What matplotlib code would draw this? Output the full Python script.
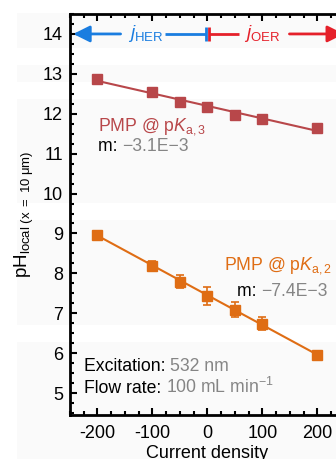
import numpy as np
import matplotlib
matplotlib.use("Agg")
import matplotlib.pyplot as plt
from matplotlib.patches import Rectangle
from matplotlib.ticker import MultipleLocator

plt.rcParams['font.family'] = ['Liberation Sans', 'DejaVu Sans']
plt.rcParams['mathtext.fontset'] = 'custom'
plt.rcParams['mathtext.rm'] = 'Liberation Sans'
plt.rcParams['mathtext.it'] = 'Liberation Sans:italic'
plt.rcParams['mathtext.bf'] = 'Liberation Sans:bold'
plt.rcParams['axes.unicode_minus'] = False

# ---- data ----
current = [-200, -100, -50, 0, 50, 100, 200]
ph_pka3 = [12.87, 12.55, 12.29, 12.17, 11.98, 11.87, 11.64]
err_pka3 = [0.03, 0.03, 0.03, 0.03, 0.03, 0.03, 0.03]
ph_pka2 = [8.97, 8.19, 7.79, 7.43, 7.09, 6.74, 5.95]
err_pka2 = [0.10, 0.12, 0.16, 0.22, 0.19, 0.17, 0.11]
xticks = [-200, -100, 0, 100, 200]
yticks = [5, 6, 7, 8, 9, 10, 11, 12, 13, 14]

RED = '#b8474a'
ORANGE = '#df6d14'
BLUE = '#1a7de0'
OER = '#e5202a'
GRAY = '#858585'
FS = 12.7

W, H = 336, 459
fig = plt.figure(figsize=(W / 100, H / 100), dpi=100, facecolor='white')

# light background bands (pixel rows)
bands = [(13, 48), (65, 82), (99, 203), (220, 325), (342, 459)]
for y0, y1 in bands:
    fig.add_artist(Rectangle((17 / W, 1 - y1 / H), 1 - 17 / W, (y1 - y0) / H,
                             transform=fig.transFigure, facecolor='#fafafa',
                             edgecolor='none', zorder=-10))

ax = fig.add_axes([70 / W, 1 - 415 / H, 275 / W, 401 / H])
ax.set_facecolor('none')
ax.set_xlim(-250, 250)
ax.set_ylim(4.45, 14.5)

x = np.array(current, dtype=float)
for ys, es, col in [(ph_pka3, err_pka3, RED), (ph_pka2, err_pka2, ORANGE)]:
    p = np.polyfit(x, ys, 1)
    ax.plot([x.min(), x.max()], np.polyval(p, [x.min(), x.max()]), color=col, lw=1.5, zorder=2)
    ax.errorbar(x, ys, yerr=es, fmt='s', color=col, ms=7, capsize=3, elinewidth=1.2,
                capthick=1.2, zorder=3)

# j arrows
ya = 14
ax.plot([-2, -2], [ya - 0.17, ya + 0.17], color=BLUE, lw=2, solid_capstyle='butt')
ax.plot([2, 2], [ya - 0.17, ya + 0.17], color=OER, lw=2, solid_capstyle='butt')
ax.plot([-2, -78], [ya, ya], color=BLUE, lw=2, solid_capstyle='butt')
ax.annotate('', xy=(-244, ya), xytext=(-158, ya),
            arrowprops=dict(arrowstyle='-|>,head_length=1.0,head_width=0.5', lw=2,
                            color=BLUE, shrinkA=0, shrinkB=0))
ax.text(-112, ya, r'$\mathit{j}_{\mathregular{HER}}$', color=BLUE, fontsize=13.5,
        ha='center', va='center')
ax.plot([2, 58], [ya, ya], color=OER, lw=2, solid_capstyle='butt')
ax.annotate('', xy=(248, ya), xytext=(149, ya), annotation_clip=False,
            arrowprops=dict(arrowstyle='-|>,head_length=1.0,head_width=0.5', lw=2,
                            color=OER, shrinkA=0, shrinkB=0))
ax.text(99, ya, r'$\mathit{j}_{\mathregular{OER}}$', color=OER, fontsize=13.5,
        ha='center', va='center')

# annotations
ax.text(-199, 11.68, r'PMP @ p$\mathit{K}_{\mathregular{a,3}}$', color=RED, fontsize=FS,
        ha='left', va='center')
t = ax.text(-199, 11.18, 'm: ', color='black', fontsize=FS, ha='left', va='center')
ax.annotate('\u22123.1E\u22123', xycoords=t, xy=(1, 0), va='bottom', ha='left',
            color=GRAY, fontsize=FS)

ax.text(227, 8.2, r'PMP @ p$\mathit{K}_{\mathregular{a,2}}$', color=ORANGE, fontsize=FS,
        ha='right', va='center')
t2 = ax.text(218, 7.55, '\u22127.4E\u22123', color=GRAY, fontsize=FS, ha='right', va='center')
ax.annotate('m: ', xycoords=t2, xy=(0, 0), va='bottom', ha='right', color='black',
            fontsize=FS)

t3 = ax.text(-225, 5.66, 'Excitation: ', color='black', fontsize=FS, ha='left', va='center')
ax.annotate('532 nm', xycoords=t3, xy=(1, 0), va='bottom', ha='left', color=GRAY,
            fontsize=FS)
t4 = ax.text(-225, 5.12, 'Flow rate: ', color='black', fontsize=FS, ha='left', va='center')
ax.annotate(r'100 mL min$^{\mathregular{-1}}$', xycoords=t4, xy=(1, 0), va='bottom',
            ha='left', color=GRAY, fontsize=FS)

# axes styling
ax.set_xticks(xticks)
ax.set_yticks(yticks)
ax.xaxis.set_minor_locator(MultipleLocator(25))
ax.yaxis.set_minor_locator(MultipleLocator(0.25))
ax.tick_params(which='both', direction='in', top=True, right=True, width=1.5,
               labelsize=13)
ax.tick_params(axis='x', pad=7)
ax.tick_params(axis='y', pad=5)
ax.tick_params(which='major', length=5)
ax.tick_params(which='minor', length=3)
for s in ax.spines.values():
    s.set_linewidth(2)
ax.set_xlabel('Current density', fontsize=13, labelpad=2)
ax.set_ylabel(r'pH$_{\mathregular{local\ (x\ =\ 10\ \mu m)}}$', fontsize=13.5, labelpad=5)

fig.savefig('out.png', dpi=100)
